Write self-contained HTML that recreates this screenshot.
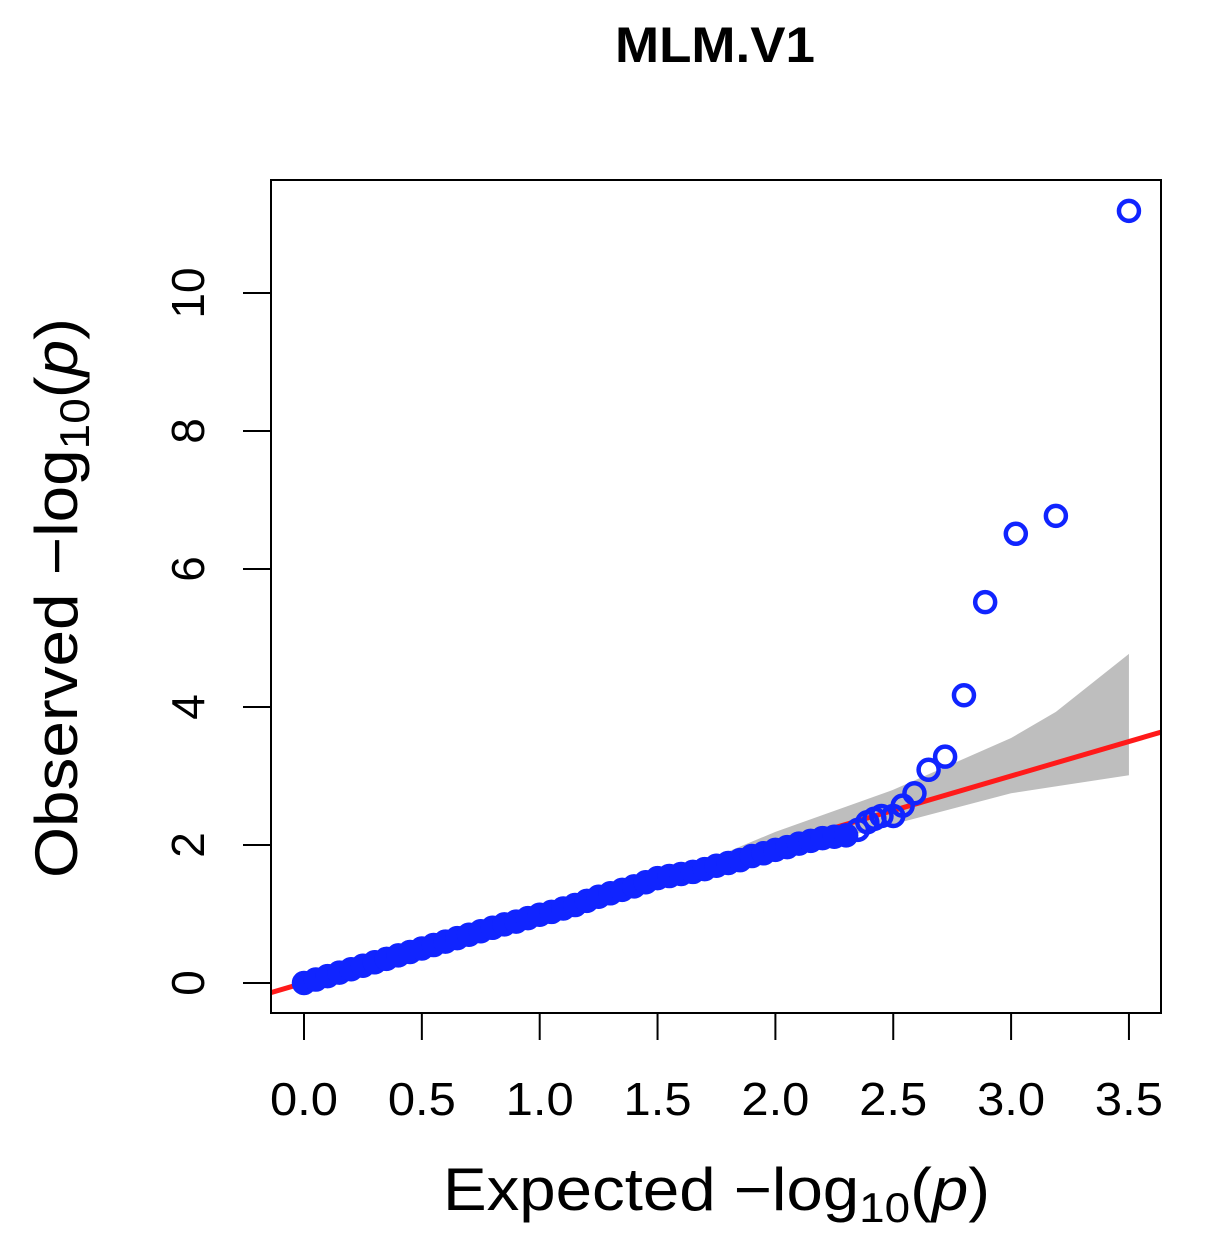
<!DOCTYPE html>
<html><head><meta charset="utf-8"><style>
html,body{margin:0;padding:0;background:#fff;}
svg{display:block;font-family:"Liberation Sans",Arial,sans-serif;}
</style></head><body>
<svg id="chart" width="1210" height="1254" viewBox="0 0 1210 1254">
<defs><clipPath id="pc"><rect x="271" y="180" width="890" height="833"/></clipPath></defs>
<text x="715" y="62" text-anchor="middle" font-size="50" font-weight="bold" textLength="200" lengthAdjust="spacingAndGlyphs">MLM.V1</text>
<g id="band" clip-path="url(#pc)"></g>
<g id="redline" clip-path="url(#pc)"></g>
<g id="points" clip-path="url(#pc)"></g>
<rect x="271" y="180" width="890" height="833" fill="none" stroke="#000" stroke-width="2"/>
<g id="xaxis"></g>
<g id="yaxis"></g>
<text x="443" y="1210" font-size="60" textLength="547" lengthAdjust="spacingAndGlyphs">Expected  −log<tspan font-size="42" dy="12">10</tspan><tspan dy="-12">(</tspan><tspan font-style="italic">p</tspan>)</text>
<text transform="translate(77,878) rotate(-90)" font-size="60" textLength="560" lengthAdjust="spacingAndGlyphs">Observed  −log<tspan font-size="42" dy="12">10</tspan><tspan dy="-12">(</tspan><tspan font-style="italic">p</tspan>)</text>
</svg>
<script>
const xTicks=[0,0.5,1,1.5,2,2.5,3,3.5];
const xTickLabels=["0.0","0.5","1.0","1.5","2.0","2.5","3.0","3.5"];
const yTicks=[0,2,4,6,8,10];
const yTickLabels=["0","2","4","6","8","10"];
const expected=[0,0.05,0.1,0.15,0.2,0.25,0.3,0.35,0.4,0.45,0.5,0.55,0.6,0.65,0.7,0.75,0.8,0.85,0.9,0.95,1.0,1.05,1.1,1.15,1.2,1.25,1.3,1.35,1.4,1.45,1.5,1.55,1.6,1.65,1.7,1.75,1.8,1.85,1.9,1.95,2.0,2.05,2.1,2.15,2.2,2.25,2.3,2.35,2.39,2.42,2.45,2.5,2.54,2.59,2.65,2.72,2.80,2.89,3.02,3.19,3.50];
const observed=[0,0.05,0.1,0.15,0.2,0.25,0.3,0.35,0.4,0.45,0.5,0.55,0.6,0.65,0.7,0.75,0.8,0.85,0.89,0.94,0.99,1.03,1.08,1.13,1.19,1.25,1.3,1.35,1.4,1.46,1.52,1.55,1.58,1.61,1.65,1.7,1.74,1.78,1.84,1.88,1.93,1.97,2.02,2.06,2.1,2.12,2.14,2.22,2.33,2.38,2.42,2.42,2.57,2.75,3.09,3.28,4.17,5.52,6.51,6.77,11.19];
const bandX=[1.6,2.0,2.5,3.0,3.19,3.5];
const bandUpper=[1.62,2.19,2.8,3.55,3.93,4.77];
const bandLower=[1.58,1.85,2.3,2.75,2.85,3.01];
const NS="http://www.w3.org/2000/svg";
const X0=271,X1=1161,XMIN=-0.14,XMAX=3.636;
const Y0=983,YPER=69;
function sx(v){return X0+(v-XMIN)/(XMAX-XMIN)*(X1-X0);}
function sy(v){return Y0-v*YPER;}
function mk(t,a){const e=document.createElementNS(NS,t);for(const k in a)e.setAttribute(k,a[k]);return e;}
let pts=bandX.map((x,i)=>sx(x)+","+sy(bandUpper[i]));
for(let i=bandX.length-1;i>=0;i--)pts.push(sx(bandX[i])+","+sy(bandLower[i]));
const poly=mk("polygon",{points:pts.join(" "),fill:"#bebebe"});


document.getElementById("band").appendChild(poly);
const ln=mk("line",{x1:sx(XMIN),y1:sy(XMIN),x2:sx(XMAX),y2:sy(XMAX),stroke:"#ff1a1a","stroke-width":5});


document.getElementById("redline").appendChild(ln);
const pg=document.getElementById("points");
expected.forEach((e,i)=>{
  const c=mk("circle",{cx:sx(e),cy:sy(observed[i]),r:10,fill:"none",stroke:"#1024ff","stroke-width":4.5});
  
  
  pg.appendChild(c);
  if(e<2.35){
    const f=mk("circle",{cx:sx(e),cy:sy(observed[i]),r:12,fill:"#1024ff"});
    
    
    pg.appendChild(f);
  }
});
const xa=document.getElementById("xaxis");
xTicks.forEach((t,i)=>{
  const l=mk("line",{x1:sx(t),y1:1013,x2:sx(t),y2:1040,stroke:"#000","stroke-width":2});
  
  
  xa.appendChild(l);
  const tx=mk("text",{x:sx(t),y:1115,"text-anchor":"middle","font-size":46,textLength:68,lengthAdjust:"spacingAndGlyphs"});
  tx.textContent=xTickLabels[i];
  
  
  xa.appendChild(tx);
});
const ya=document.getElementById("yaxis");
yTicks.forEach((t,i)=>{
  const l=mk("line",{x1:243,y1:sy(t),x2:271,y2:sy(t),stroke:"#000","stroke-width":2});
  
  
  ya.appendChild(l);
  const tx=mk("text",{transform:"translate(204,"+sy(t)+") rotate(-90)","text-anchor":"middle","font-size":46});
  tx.textContent=yTickLabels[i];
  
  
  ya.appendChild(tx);
});
</script>
</body></html>
